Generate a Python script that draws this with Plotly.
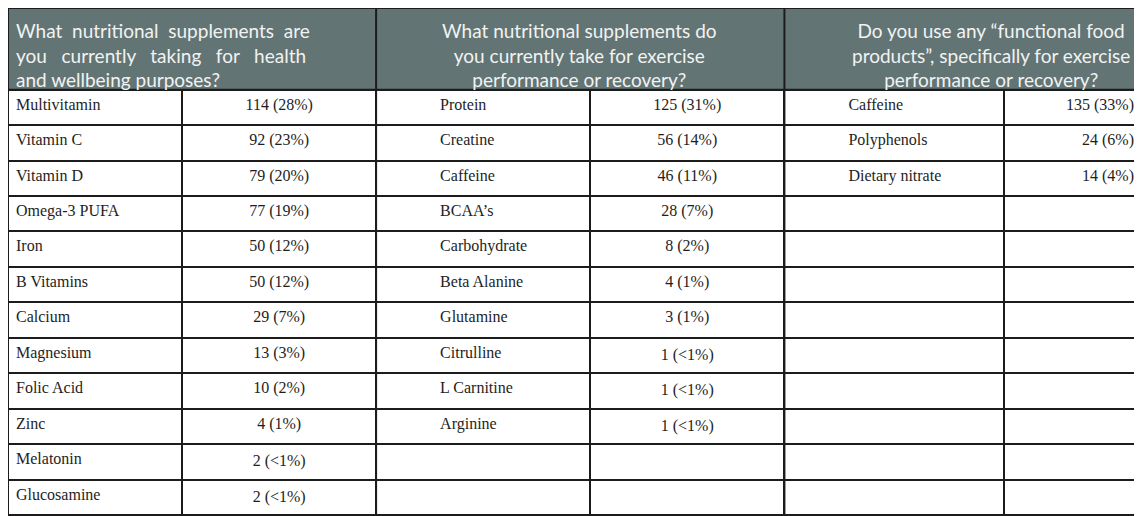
import plotly.graph_objects as go

# --- data -------------------------------------------------------------
health_items = [
    "Multivitamin", "Vitamin C", "Vitamin D", "Omega-3 PUFA", "Iron",
    "B Vitamins", "Calcium", "Magnesium", "Folic Acid", "Zinc",
    "Melatonin", "Glucosamine",
]
health_counts = [114, 92, 79, 77, 50, 50, 29, 13, 10, 4, 2, 2]
health_pct = ["28%", "23%", "20%", "19%", "12%", "12%", "7%", "3%", "2%",
              "1%", "<1%", "<1%"]

exercise_items = [
    "Protein", "Creatine", "Caffeine", "BCAA’s", "Carbohydrate",
    "Beta Alanine", "Glutamine", "Citrulline", "L Carnitine", "Arginine",
]
exercise_counts = [125, 56, 46, 28, 8, 4, 3, 1, 1, 1]
exercise_pct = ["31%", "14%", "11%", "7%", "2%", "1%", "1%", "<1%", "<1%",
                "<1%"]

food_items = ["Caffeine", "Polyphenols", "Dietary nitrate"]
food_counts = [135, 24, 14]
food_pct = ["33%", "6%", "4%"]

headers = [
    ["What nutritional supplements are",
     "you currently taking for health",
     "and wellbeing purposes?"],
    ["What nutritional supplements do",
     "you currently take for exercise",
     "performance or recovery?"],
    ["Do you use any “functional food",
     "products”, specifically for exercise",
     "performance or recovery?"],
]

# --- layout: reference is 1142 x 516, the html page adds an 8px margin,
# so the figure is sized to fit what remains --------------------------
RW, RH = 1142, 516
W, H = RW - 8, RH - 8
sx, sy = W / RW, H / RH
col_px = [175.5, 195.2, 215.5, 195.7, 221.3, 138.8]
edges = [0]
for c in col_px:
    edges.append(edges[-1] + c)
n_rows = 12
head_h = 83
row_h = 36

HEAD_BG = "#627574"
LINE = "#1c1c1c"
TXT = "#1e1e1e"
NB = "\u00a0"


def fmt(counts, pct):
    return [f"{c} ({p})" for c, p in zip(counts, pct)]


def fill(lst):
    return lst + [""] * (n_rows - len(lst))


indent = NB * 14
col_values = [
    fill(health_items),
    fill(fmt(health_counts, health_pct)),
    fill([indent + s for s in exercise_items]),
    fill(fmt(exercise_counts, exercise_pct)),
    fill([indent + s for s in food_items]),
    fill(fmt(food_counts, food_pct)),
]

fig = go.Figure(go.Table(
    columnwidth=col_px,
    domain=dict(x=[0, 1], y=[0, 1]),
    header=dict(
        values=[""] * 6,
        height=head_h * sy,
        fill_color=HEAD_BG,
        line=dict(color=HEAD_BG, width=1),
    ),
    cells=dict(
        values=col_values,
        height=row_h * sy,
        align=["left", "center", "left", "center", "left", "right"],
        fill_color="white",
        line=dict(color=LINE, width=2),
        font=dict(family="Liberation Serif", size=16, color=TXT),
    ),
))

# header text spanning each pair of columns
hfont = dict(family="Lato", size=19, color="#f2f2f2")
gaps = [NB + " ", NB * 2 + " ", " "]
g1_lines = [gaps[i].join(line.split(" ")) for i, line in enumerate(headers[0])]
fig.add_annotation(
    x=6 * sx / W, y=1 - 9 / H, xref="paper", yref="paper",
    xanchor="left", yanchor="top", align="left",
    text="<br>".join(g1_lines), showarrow=False, font=hfont,
)
for k, cx in zip([1, 2], [576, 990]):
    fig.add_annotation(
        x=cx / RW, y=1 - 9 / H, xref="paper", yref="paper",
        xanchor="center", yanchor="top", align="center",
        text="<br>".join(headers[k]), showarrow=False, font=hfont,
    )

# group dividers and outer frame
for e in [edges[2], edges[4]]:
    fig.add_shape(type="line", xref="paper", yref="paper",
                  x0=e / RW, x1=e / RW, y0=0, y1=1,
                  line=dict(color=LINE, width=2))
fig.add_shape(type="rect", xref="paper", yref="paper",
              x0=0, x1=1, y0=0, y1=1, line=dict(color=LINE, width=2))
fig.add_shape(type="line", xref="paper", yref="paper",
              x0=0, x1=1, y0=1 - head_h / RH, y1=1 - head_h / RH,
              line=dict(color=LINE, width=2))

fig.update_layout(
    width=W, height=H,
    margin=dict(l=0, r=0, t=0, b=0),
    paper_bgcolor="white",
    plot_bgcolor="white",
)

fig.write_html("out.html")
